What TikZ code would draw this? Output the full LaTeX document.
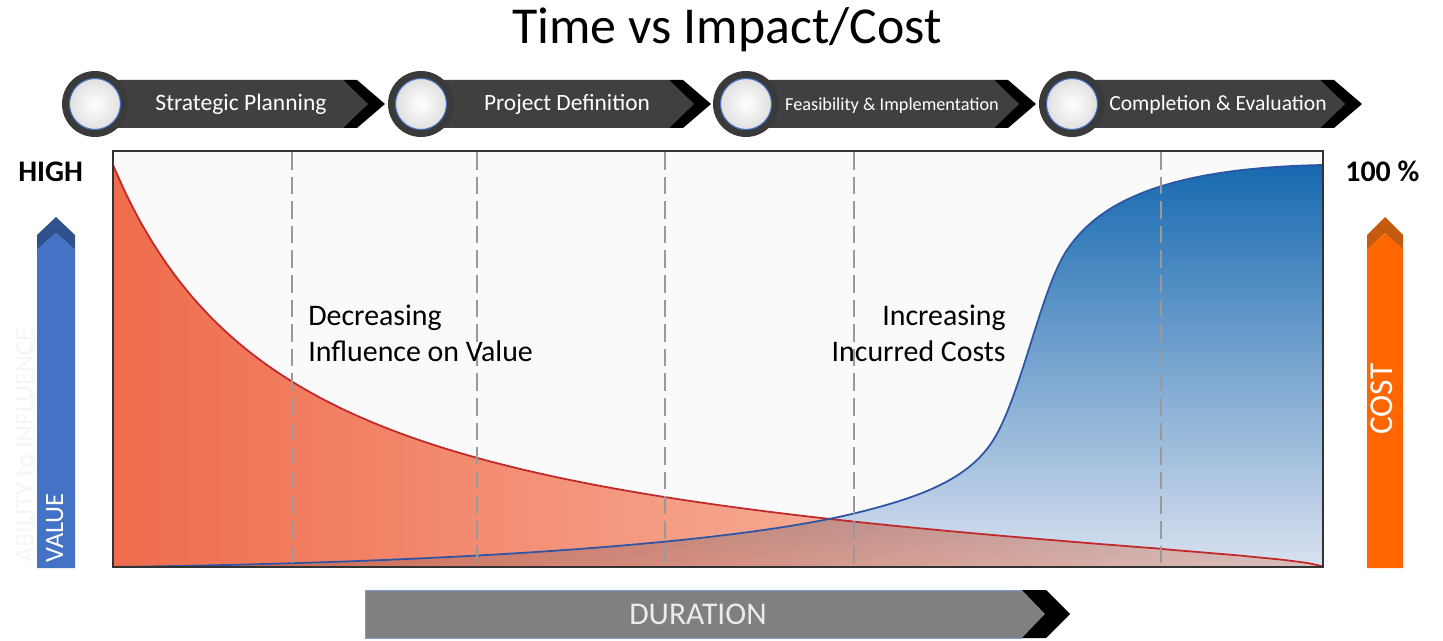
\documentclass[tikz,border=0pt]{standalone}
\usepackage{fontspec}
\setmainfont{Carlito}
\usetikzlibrary{positioning}
\definecolor{barGray}{RGB}{64,64,64}
\definecolor{ringGray}{RGB}{58,58,58}
\definecolor{valueBlue}{RGB}{68,114,196}
\definecolor{valueHead}{RGB}{47,82,143}
\definecolor{costOrange}{RGB}{255,102,0}
\definecolor{costHead}{RGB}{197,90,17}
\definecolor{durGray}{RGB}{128,128,128}
\definecolor{redLine}{RGB}{192,40,42}
\definecolor{blueLine}{RGB}{46,85,165}
\definecolor{redA}{RGB}{239,108,76}
\definecolor{redB}{RGB}{252,214,198}
\definecolor{blueA}{RGB}{24,108,180}
\definecolor{blueB}{RGB}{222,230,245}
\begin{document}
\begin{tikzpicture}[x=0.02cm,y=-0.02cm]
\tikzstyle{phasebar} = [fill=barGray] % dark body of a phase arrow
\tikzstyle{phasetip} = [fill=black] % black chevron at its end
\tikzstyle{ring} = [circle, fill=ringGray, minimum size=1.32cm, inner sep=0pt] % dark ring
\tikzstyle{disc} = [circle, draw=valueBlue, line width=0.6pt, inner color=white, outer color=black!12, minimum size=1.02cm, inner sep=0pt]
\tikzstyle{phaselabel} = [text=white, anchor=base, inner sep=0pt]
\tikzstyle{gridline} = [black!40, line width=0.9pt, dash pattern=on 10pt off 4pt]
\tikzstyle{bigtext} = [font=\fontsize{17}{20.5}\selectfont, inner sep=0pt, align=left]
\tikzstyle{sidetext} = [rotate=90, anchor=base west, inner sep=0pt, text=white]

\useasboundingbox (0,0) rectangle (1443,641);

% title
\node[font=\fontsize{29.5}{30}\selectfont, anchor=base] (title) at (727,44) {Time vs Impact/Cost};

% phase arrows
\foreach \cx/\lbl/\fs [count=\i] in {95/Strategic Planning/13.4, 421/Project Definition/13.3,
    746/Feasibility \& Implementation/10.4, 1072/Completion \& Evaluation/12.3} {
  \fill[phasebar] (\cx,80) -- (\cx+248,80) -- (\cx+273,104) -- (\cx+248,128) -- (\cx,128) -- cycle;
  \fill[phasetip] (\cx+248,80) -- (\cx+262,80) -- (\cx+290,104) -- (\cx+262,128) -- (\cx+248,128) -- (\cx+273,104) -- cycle;
  \node[ring] (ring\i) at (\cx,104) {};
  \node[disc] (disc\i) at (ring\i) {};
  \node[phaselabel, font=\fontsize{\fs}{\fs}\selectfont] (phase\i) at (\cx+146,111) {\lbl};
}

% chart area
\fill[black!2] (113,151) rectangle (1323,567);
\shade[left color=redA, right color=redB]
  (113,567) -- plot[domain=0:1209, samples=90, smooth] ({113+\x},{567-402*(1-\x/1210)^0.6/(1+0.00541*\x)}) -- (1323,567) -- cycle;
\begin{scope}[blend mode=multiply]
\shade[top color=blueA, bottom color=blueB]
  (113,567) .. controls (500,562) and (750,540) .. (860,512)
  .. controls (920,497) and (965,480) .. (990,445)
  .. controls (1020,403) and (1040,290) .. (1067,250)
  .. controls (1097,205) and (1160,168) .. (1323,165) -- (1323,567) -- cycle;
\end{scope}
\draw[redLine, line width=1pt] plot[domain=0:1209, samples=90, smooth] ({113+\x},{567-402*(1-\x/1210)^0.6/(1+0.00541*\x)});
\draw[blueLine, line width=1pt] (113,567) .. controls (500,562) and (750,540) .. (860,512)
  .. controls (920,497) and (965,480) .. (990,445)
  .. controls (1020,403) and (1040,290) .. (1067,250)
  .. controls (1097,205) and (1160,168) .. (1323,165);
\foreach \dx in {292,477,665,854,1161}
  \draw[gridline] (\dx,152) -- (\dx,566);
\draw[black!80, line width=1.2pt] (113,151) rectangle (1323,567);

% curve labels
\node[bigtext, anchor=base west] (decr) at (308,362) {Decreasing\\Influence on Value};
\node[bigtext, anchor=base east, align=right] (incr) at (1006,362) {Increasing\\Incurred Costs};

% side scales
\node[font=\bfseries\fontsize{17}{17}\selectfont, anchor=base west, inner sep=0pt] (high) at (18,182) {HIGH};
\node[font=\bfseries\fontsize{17}{17}\selectfont, anchor=base west, inner sep=0pt] (full) at (1345,182) {100 \%};

\fill[valueHead] (37,235) -- (56,217) -- (75,235) -- (75,250) -- (56,233) -- (37,250) -- cycle;
\fill[valueBlue] (37,250) -- (56,233) -- (75,250) -- (75,568) -- (37,568) -- cycle;
\node[sidetext, text=black!4, font=\fontsize{15}{15}\selectfont] (ability) at (33,563) {ABILITY to INFLUENCE};
\node[sidetext, font=\fontsize{15}{15}\selectfont] (value) at (63,563) {VALUE};

\fill[costHead] (1367,235) -- (1385,217) -- (1403,235) -- (1403,250) -- (1385,233) -- (1367,250) -- cycle;
\fill[costOrange] (1367,250) -- (1385,233) -- (1403,250) -- (1403,568) -- (1367,568) -- cycle;
\node[sidetext, font=\fontsize{19}{19}\selectfont] (cost) at (1392,435) {COST};

% duration arrow
\fill[durGray] (365,590) -- (1022,590) -- (1045,614) -- (1022,638) -- (365,638) -- cycle;
\draw[valueBlue!70, line width=0.5pt] (1022,590) -- (365,590) -- (365,638) -- (1022,638);
\fill[black] (1022,590) -- (1046,590) -- (1070,614) -- (1046,638) -- (1022,638) -- (1045,614) -- cycle;
\node[font=\fontsize{18}{18}\selectfont, text=white!92!black, anchor=base, inner sep=0pt] (dur) at (698,624) {DURATION};
\end{tikzpicture}
\end{document}
